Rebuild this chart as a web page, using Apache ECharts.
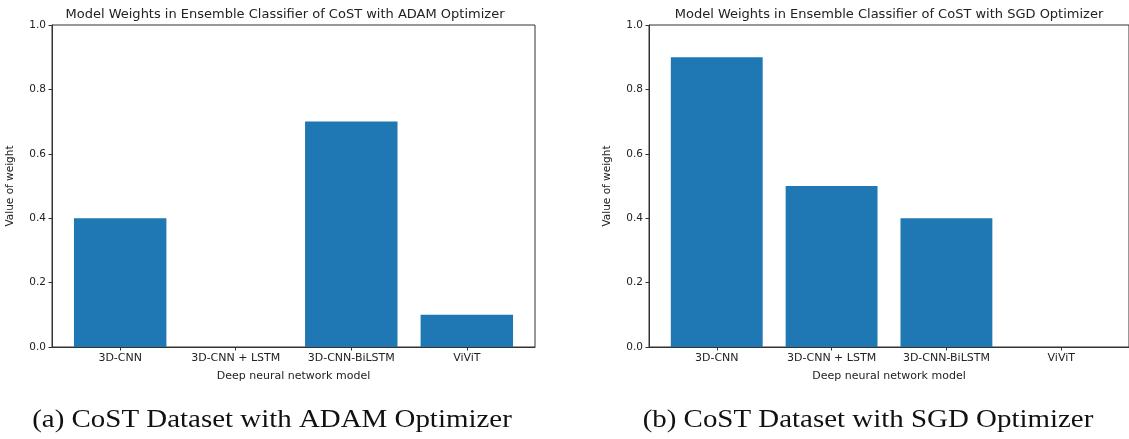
<!DOCTYPE html>
<html>
<head>
<meta charset="utf-8">
<script src="https://cdn.jsdelivr.net/npm/echarts@6/dist/echarts.min.js"></script>
<style>
html,body{margin:0;padding:0;background:#fff;}
#c{width:1129px;height:439px;}
</style>
</head>
<body>
<div id="c"></div>
<script>
const categories = ['3D-CNN', '3D-CNN + LSTM', '3D-CNN-BiLSTM', 'ViViT'];
const adamWeights = [0.4, 0.0, 0.7, 0.1];
const sgdWeights = [0.9, 0.5, 0.4, 0.0];
const titleAdam = 'Model Weights in Ensemble Classifier of CoST with ADAM Optimizer';
const titleSgd = 'Model Weights in Ensemble Classifier of CoST with SGD Optimizer';
const captionAdam = '(a) CoST Dataset with ADAM Optimizer';
const captionSgd = '(b) CoST Dataset with SGD Optimizer';

const FONT = 'DejaVu Sans';
const AX = '#333';
const BAR = '#1f77b4';
const catIdx = categories.map((_, i) => i);

function xAxisCfg(gi) {
  return {
    type: 'value', gridIndex: gi, min: -0.59, max: 3.59,
    name: 'Deep neural network model', nameLocation: 'middle', nameGap: 24,
    nameTextStyle: { fontFamily: FONT, fontSize: 11, color: '#222' },
    axisLine: { show: true, onZero: false, lineStyle: { color: AX, width: 1 } },
    axisTick: { show: true, length: 3.5, customValues: catIdx, lineStyle: { color: AX } },
    axisLabel: { customValues: catIdx, margin: 6, fontFamily: FONT, fontSize: 11, color: '#222',
      formatter: v => categories[Math.round(v)] },
    splitLine: { show: false }
  };
}
function yAxisCfg(gi) {
  return {
    type: 'value', gridIndex: gi, min: 0, max: 1, interval: 0.2,
    name: 'Value of weight', nameLocation: 'middle', nameGap: 36, nameRotate: 90,
    nameTextStyle: { fontFamily: FONT, fontSize: 10.5, color: '#222' },
    axisLine: { show: true, onZero: false, lineStyle: { color: AX, width: 1 } },
    axisTick: { show: true, length: 3.5, inside: false, lineStyle: { color: AX } },
    axisLabel: { margin: 6, fontFamily: FONT, fontSize: 10.5, color: '#222',
      formatter: v => v.toFixed(1) },
    splitLine: { show: false }
  };
}

const capStyle = { fontFamily: 'Liberation Serif', fontSize: 25, fill: '#111', textAlign: 'center', textVerticalAlign: 'middle' };

const chart = echarts.init(document.getElementById('c'), null, { renderer: 'canvas' });
chart.setOption({
  animation: false,
  backgroundColor: '#fff',
  title: [
    { text: titleAdam, left: 280, top: 3, textAlign: 'center',
      textStyle: { fontFamily: FONT, fontSize: 13, fontWeight: 'normal', color: '#222' } },
    { text: titleSgd, left: 884, top: 3, textAlign: 'center',
      textStyle: { fontFamily: FONT, fontSize: 13, fontWeight: 'normal', color: '#222' } }
  ],
  graphic: [
    { type: 'text', x: 272, y: 420, scaleX: 1.157, style: Object.assign({ text: captionAdam }, capStyle) },
    { type: 'text', x: 868, y: 420, scaleX: 1.157, style: Object.assign({ text: captionSgd }, capStyle) }
  ],
  grid: [
    { left: 52, top: 25, width: 483, height: 322, show: true, borderColor: AX, borderWidth: 1, backgroundColor: 'transparent' },
    { left: 649, top: 25, width: 483, height: 322, show: true, borderColor: AX, borderWidth: 1, backgroundColor: 'transparent' }
  ],
  xAxis: [xAxisCfg(0), xAxisCfg(1)],
  yAxis: [yAxisCfg(0), yAxisCfg(1)],
  series: [
    { type: 'bar', xAxisIndex: 0, yAxisIndex: 0, barWidth: '80%',
      itemStyle: { color: BAR }, data: adamWeights.map((v, i) => [i, v]) },
    { type: 'bar', xAxisIndex: 1, yAxisIndex: 1, barWidth: '80%',
      itemStyle: { color: BAR }, data: sgdWeights.map((v, i) => [i, v]) }
  ]
});
</script>
</body>
</html>
